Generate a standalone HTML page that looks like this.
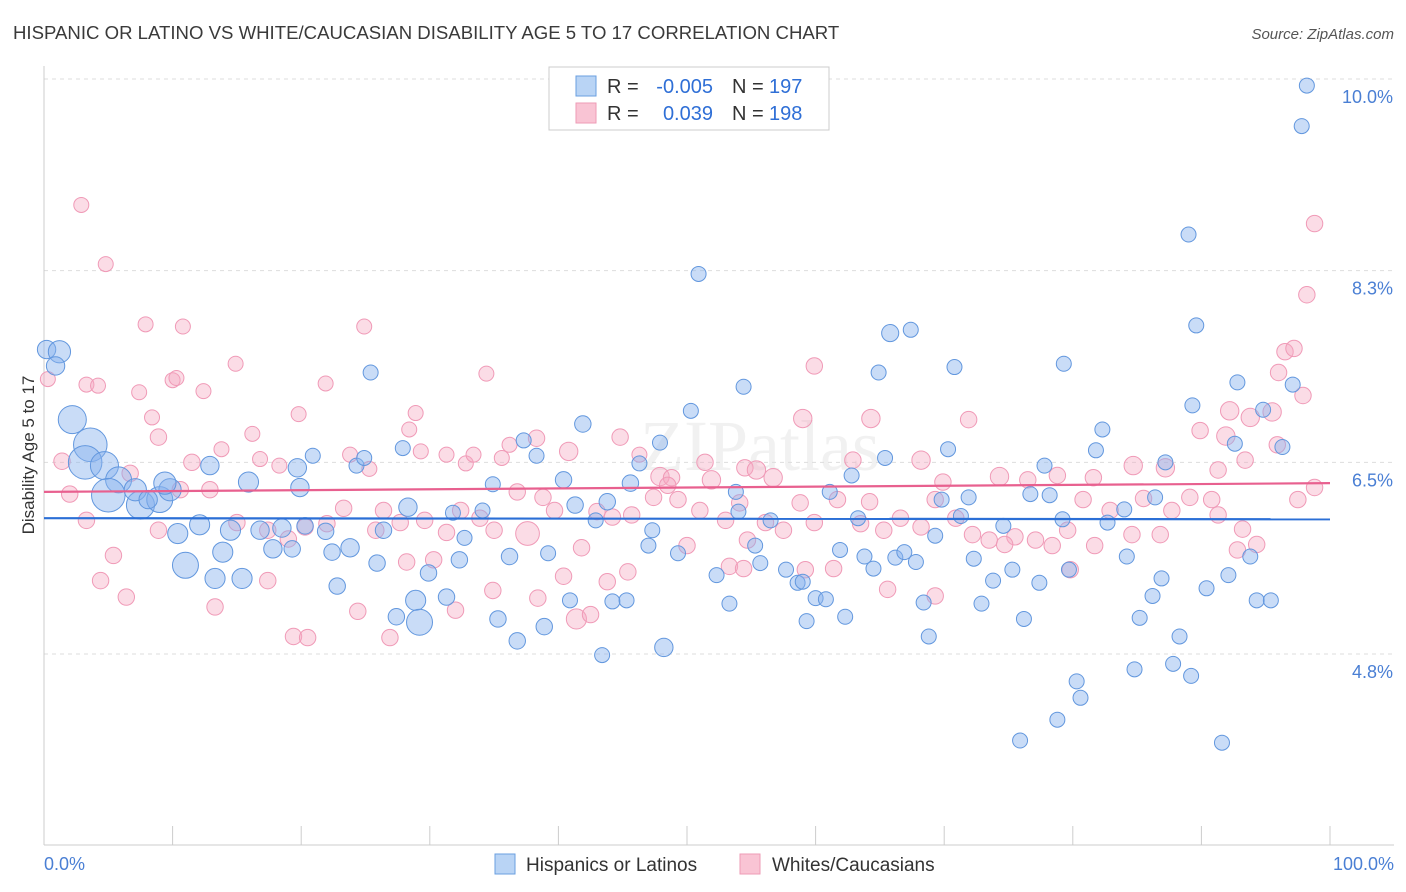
<!DOCTYPE html>
<html><head><meta charset="utf-8"><style>
body{margin:0;background:#fff;font-family:"Liberation Sans",sans-serif;}
svg{display:block}
</style></head><body>
<svg id="chart" width="1406" height="892">
<text x="13" y="39" font-size="18.6" fill="#3a3a3a">HISPANIC OR LATINO VS WHITE/CAUCASIAN DISABILITY AGE 5 TO 17 CORRELATION CHART</text>
<text x="1394" y="39" font-size="15" fill="#555" font-style="italic" text-anchor="end">Source: ZipAtlas.com</text>
<text x="34" y="455" font-size="17" fill="#333" text-anchor="middle" transform="rotate(-90 34 455)">Disability Age 5 to 17</text>
<text x="640" y="470" font-size="72" fill="#000" opacity="0.05" font-family="Liberation Serif">ZIPatlas</text>
<g id="grid"></g><g id="pts"></g><g id="trend"></g>
<g>
<rect x="549" y="67" width="280" height="63" fill="#fff" stroke="#ccc"/>
<rect x="576" y="76" width="20" height="20" fill="#b9d4f5" stroke="#6a9fe0"/>
<rect x="576" y="103" width="20" height="20" fill="#f9c4d4" stroke="#ee9bb6"/>
<text x="607" y="93" font-size="20" fill="#333">R =</text>
<text x="713" y="93" font-size="20" fill="#2f6fd6" text-anchor="end">-0.005</text>
<text x="732" y="93" font-size="20" fill="#333">N =</text>
<text x="769" y="93" font-size="20" fill="#2f6fd6">197</text>
<text x="607" y="120" font-size="20" fill="#333">R =</text>
<text x="713" y="120" font-size="20" fill="#2f6fd6" text-anchor="end">0.039</text>
<text x="732" y="120" font-size="20" fill="#333">N =</text>
<text x="769" y="120" font-size="20" fill="#2f6fd6">198</text>
</g>
<g>
<rect x="495" y="854" width="20" height="20" fill="#b9d4f5" stroke="#6a9fe0"/>
<text x="526" y="871" font-size="19" fill="#333">Hispanics or Latinos</text>
<rect x="740" y="854" width="20" height="20" fill="#f9c4d4" stroke="#ee9bb6"/>
<text x="772" y="871" font-size="19" fill="#333">Whites/Caucasians</text>
</g>
</svg>
<script>
const yTickValues=[10.0,8.25,6.5,4.75];
const yTickLabels=["10.0%","8.3%","6.5%","4.8%"];
const xTickLabels=["0.0%","100.0%"];
const blueTrend=[5.99,5.98];
const pinkTrend=[6.23,6.31];
const bluePoints=[[98.2,9.94,1],[97.8,9.57,1],[89.0,8.58,1],[50.9,8.22,1],[89.6,7.75,1],[65.8,7.68,1.3],[67.4,7.71,1],[79.3,7.40,1],[70.8,7.37,1],[64.9,7.32,1],[54.4,7.19,1],[92.8,7.23,1],[97.1,7.21,1],[25.4,7.32,1],[0.2,7.53,1.5],[1.2,7.51,2.2],[0.9,7.38,1.5],[2.2,6.89,3.5],[3.6,6.66,5],[3.2,6.50,5],[4.7,6.47,3.5],[5.8,6.34,3],[5.0,6.20,5],[7.5,6.11,3.5],[9.0,6.16,3],[9.8,6.25,2.2],[7.1,6.25,2.2],[8.1,6.16,1.5],[9.4,6.31,2.2],[12.9,6.47,1.5],[15.9,6.32,1.8],[19.7,6.45,1.5],[20.9,6.56,1],[24.3,6.47,1],[27.9,6.63,1],[41.9,6.85,1.2],[50.3,6.97,1],[37.3,6.70,1],[46.3,6.49,1],[47.9,6.68,1],[65.4,6.54,1],[70.3,6.62,1],[77.8,6.47,1],[81.8,6.61,1],[82.3,6.80,1],[89.3,7.02,1],[92.6,6.67,1],[96.3,6.64,1],[94.8,6.98,1],[87.2,6.50,1],[10.4,5.85,1.8],[12.1,5.93,1.8],[14.5,5.88,1.8],[16.8,5.88,1.5],[18.5,5.90,1.5],[20.3,5.92,1.2],[21.9,5.87,1.2],[13.9,5.68,1.8],[11.0,5.56,3],[13.3,5.44,1.8],[15.4,5.44,1.8],[17.8,5.71,1.5],[19.3,5.71,1.2],[22.4,5.68,1.2],[23.8,5.72,1.5],[22.8,5.37,1.2],[26.4,5.88,1.2],[25.9,5.58,1.2],[28.3,6.09,1.5],[31.8,6.04,1],[32.7,5.81,1],[34.1,6.06,1],[34.9,6.30,1],[36.2,5.64,1.2],[32.3,5.61,1.2],[29.9,5.49,1.2],[31.3,5.27,1.2],[28.9,5.24,1.8],[29.2,5.04,3],[27.4,5.09,1.2],[35.3,5.07,1.2],[36.8,4.87,1.2],[38.9,5.00,1.2],[40.9,5.24,1],[39.2,5.67,1],[40.4,6.34,1.2],[41.3,6.11,1.2],[42.9,5.97,1],[43.8,6.14,1.2],[45.6,6.31,1.2],[47.3,5.88,1],[47.0,5.74,1],[49.3,5.67,1],[48.2,4.81,1.5],[43.4,4.74,1],[44.2,5.23,1],[52.3,5.47,1],[53.3,5.21,1],[54.0,6.05,1],[53.8,6.23,1],[55.3,5.74,1],[56.5,5.97,1],[55.7,5.58,1],[57.7,5.52,1],[58.6,5.40,1],[60.0,5.26,1],[60.8,5.25,1],[59.3,5.05,1],[62.3,5.09,1],[61.9,5.70,1],[61.1,6.23,1],[62.8,6.38,1],[63.3,5.99,1],[63.8,5.64,1],[64.5,5.53,1],[66.2,5.63,1],[66.9,5.68,1],[67.8,5.59,1],[68.4,5.22,1],[69.3,5.83,1],[69.8,6.16,1],[71.9,6.18,1],[71.3,6.01,1],[72.3,5.62,1],[72.9,5.21,1],[73.8,5.42,1],[74.6,5.92,1],[75.3,5.52,1],[76.2,5.07,1],[76.7,6.21,1],[77.4,5.40,1],[78.2,6.20,1],[79.2,5.98,1],[79.7,5.52,1],[80.3,4.50,1],[80.6,4.35,1],[78.8,4.15,1],[75.9,3.96,1],[82.7,5.95,1],[84.0,6.07,1],[84.2,5.64,1],[84.8,4.61,1],[85.2,5.08,1],[86.2,5.28,1],[86.9,5.44,1],[87.8,4.66,1],[88.3,4.91,1],[89.2,4.55,1],[90.4,5.35,1],[92.1,5.47,1],[91.6,3.94,1],[93.8,5.64,1],[94.3,5.24,1],[95.4,5.24,1],[86.4,6.18,1],[68.8,4.91,1],[19.9,6.27,1.5],[24.9,6.54,1],[38.3,6.56,1],[45.3,5.24,1],[59.0,5.41,1]];
const pinkPoints=[[2.9,8.85,1],[4.8,8.31,1],[7.9,7.76,1],[10.8,7.74,1],[24.9,7.74,1],[14.9,7.40,1],[34.4,7.31,1],[0.3,7.26,1],[3.3,7.21,1],[4.2,7.20,1],[7.4,7.14,1],[10.0,7.25,1],[10.3,7.27,1],[12.4,7.15,1],[8.4,6.91,1],[21.9,7.22,1],[19.8,6.94,1],[28.9,6.95,1],[28.4,6.80,1],[16.2,6.76,1],[13.8,6.62,1],[16.8,6.53,1],[18.3,6.47,1],[23.8,6.57,1],[25.3,6.44,1],[29.3,6.60,1],[31.3,6.57,1],[32.8,6.49,1],[33.4,6.57,1],[35.6,6.54,1],[36.2,6.66,1],[38.3,6.72,1.2],[40.8,6.60,1.5],[44.8,6.73,1.2],[46.3,6.57,1],[47.9,6.37,1.5],[48.8,6.36,1.2],[51.4,6.50,1.2],[51.9,6.34,1.5],[54.5,6.45,1.2],[55.4,6.43,1.5],[56.7,6.36,1.5],[59.0,6.90,1.5],[59.9,7.38,1.2],[62.9,6.52,1.2],[64.3,6.90,1.5],[68.2,6.52,1.5],[71.9,6.89,1.2],[74.3,6.37,1.5],[76.5,6.34,1.2],[78.8,6.38,1.2],[81.6,6.36,1.2],[84.7,6.47,1.5],[87.2,6.45,1.5],[89.9,6.79,1.2],[91.9,6.74,1.5],[93.8,6.91,1.5],[95.5,6.96,1.5],[92.2,6.97,1.5],[96.5,7.51,1.2],[97.2,7.54,1.2],[96.0,7.32,1.2],[97.9,7.11,1.2],[98.2,8.03,1.2],[98.8,8.68,1.2],[95.9,6.66,1.2],[93.4,6.52,1.2],[91.3,6.43,1.2],[89.1,6.18,1.2],[90.8,6.16,1.2],[91.3,6.02,1.2],[86.8,5.84,1.2],[87.7,6.06,1.2],[85.5,6.17,1.2],[82.9,6.06,1.2],[80.8,6.16,1.2],[79.6,5.88,1.2],[78.4,5.74,1.2],[77.1,5.79,1.2],[75.5,5.82,1.2],[73.5,5.79,1.2],[72.2,5.84,1.2],[70.9,5.99,1.2],[69.9,6.32,1.2],[69.3,6.16,1.2],[68.2,5.91,1.2],[66.6,5.99,1.2],[65.3,5.88,1.2],[64.2,6.14,1.2],[63.5,5.94,1.2],[61.7,6.16,1.2],[59.9,5.95,1.2],[58.8,6.13,1.2],[57.5,5.88,1.2],[56.1,5.95,1.2],[54.7,5.79,1.2],[54.1,6.13,1.2],[53.0,5.97,1.2],[51.0,6.06,1.2],[50.0,5.74,1.2],[49.3,6.16,1.2],[48.5,6.29,1.2],[47.4,6.18,1.2],[45.7,6.02,1.2],[44.2,6.00,1.2],[43.0,6.05,1.2],[41.8,5.72,1.2],[39.7,6.06,1.2],[38.8,6.18,1.2],[37.6,5.85,2.5],[36.8,6.23,1.2],[35.0,5.88,1.2],[33.9,5.99,1.2],[32.4,6.06,1.2],[31.3,5.86,1.2],[29.6,5.97,1.2],[27.7,5.95,1.2],[26.4,6.06,1.2],[25.8,5.88,1.2],[23.3,6.08,1.2],[22.0,5.94,1.2],[20.3,5.91,1.2],[19.0,5.80,1.2],[17.4,5.88,1.2],[15.0,5.95,1.2],[12.9,6.25,1.2],[11.5,6.50,1.2],[10.6,6.25,1.2],[8.9,5.88,1.2],[6.7,6.40,1.2],[5.4,5.65,1.2],[4.4,5.42,1.2],[6.4,5.27,1.2],[13.3,5.18,1.2],[17.4,5.42,1.2],[19.4,4.91,1.2],[20.5,4.90,1.2],[24.4,5.14,1.2],[26.9,4.90,1.2],[28.2,5.59,1.2],[30.3,5.61,1.2],[32.0,5.15,1.2],[34.9,5.33,1.2],[38.4,5.26,1.2],[40.4,5.46,1.2],[41.4,5.07,1.8],[42.5,5.11,1.2],[43.8,5.41,1.2],[45.4,5.50,1.2],[53.3,5.55,1.2],[54.4,5.53,1.2],[59.2,5.52,1.2],[61.4,5.53,1.2],[65.6,5.34,1.2],[69.3,5.28,1.2],[79.8,5.52,1.2],[81.7,5.74,1.2],[84.6,5.84,1.2],[2.0,6.21,1.2],[1.4,6.51,1.2],[8.9,6.73,1.2],[3.3,5.97,1.2],[93.2,5.89,1.2],[94.3,5.75,1.2],[97.5,6.16,1.2],[98.8,6.27,1.2],[92.8,5.70,1.2],[74.7,5.75,1.2]];

const NS="http://www.w3.org/2000/svg";
const X0=44,X1=1330,Y0=79,Y1=654;
function xs(p){return X0+(X1-X0)*p/100;}
function ys(v){return Y0+(Y1-Y0)*(10-v)/(10-4.75);}
function rs(w){return 7.5*Math.sqrt(w);}
function mk(tag,attrs,parent){const e=document.createElementNS(NS,tag);for(const k in attrs)e.setAttribute(k,attrs[k]);parent.appendChild(e);return e;}
const grid=document.getElementById('grid');
yTickValues.forEach((v,i)=>{
  const l=mk('line',{x1:X0,x2:1394,y1:ys(v),y2:ys(v),stroke:'#ddd','stroke-dasharray':'4,4'},grid);
  
  
  const t=mk('text',{x:1393,y:ys(v)+24,'font-size':18,fill:'#4a7fd4','text-anchor':'end'},grid);
  t.textContent=yTickLabels[i];
  
  
});
mk('line',{x1:X0,x2:X0,y1:66,y2:845,stroke:'#ccc'},grid);
mk('line',{x1:X0,x2:1394,y1:845,y2:845,stroke:'#ccc'},grid);
for(let i=0;i<=10;i++){
  const tk=mk('line',{x1:xs(i*10),x2:xs(i*10),y1:826,y2:845,stroke:'#ccc'},grid);
  
  
}
const xl0=mk('text',{x:44,y:870,'font-size':18,fill:'#4a7fd4'},grid);xl0.textContent=xTickLabels[0];


const xl1=mk('text',{x:1394,y:870,'font-size':18,fill:'#4a7fd4','text-anchor':'end'},grid);xl1.textContent=xTickLabels[1];


const pts=document.getElementById('pts');
pinkPoints.forEach(p=>{
  const c=mk('circle',{cx:xs(p[0]),cy:ys(p[1]),r:rs(p[2]),fill:'rgba(246,168,192,0.4)',stroke:'#f09ab7','stroke-width':1},pts);
  
  
});
bluePoints.forEach(p=>{
  const c=mk('circle',{cx:xs(p[0]),cy:ys(p[1]),r:rs(p[2]),fill:'rgba(135,178,238,0.45)',stroke:'#6297de','stroke-width':1},pts);
  
  
});
const tr=document.getElementById('trend');
const bl=mk('line',{x1:xs(0),x2:xs(100),y1:ys(blueTrend[0]),y2:ys(blueTrend[1]),stroke:'#2b6fd6','stroke-width':2.2},tr);


const pl=mk('line',{x1:xs(0),x2:xs(100),y1:ys(pinkTrend[0]),y2:ys(pinkTrend[1]),stroke:'#e8608f','stroke-width':2.2},tr);


</script>
</body></html>
